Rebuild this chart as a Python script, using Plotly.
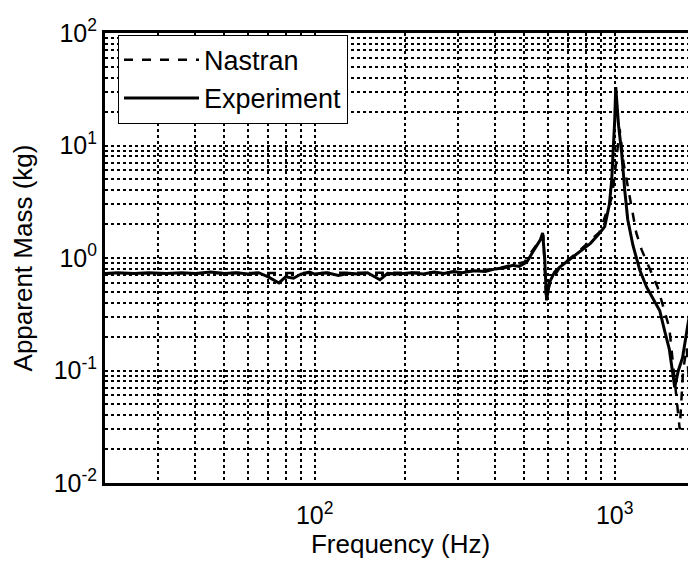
import math
import plotly.graph_objects as go

# ---- data ----
exp_freq = [20, 22, 25, 28, 32, 36, 40, 45, 50, 55, 60, 65, 70, 76, 80, 85, 90, 96, 100,
            110, 120, 130, 140, 150, 165, 175, 190, 210, 230, 250, 270, 290, 310, 340,
            370, 400, 430, 457, 480, 509, 530, 550, 565, 575, 584, 593, 605, 630, 656,
            700, 764, 830, 891, 926, 960, 977, 1000, 1008, 1030, 1055, 1080, 1105, 1150,
            1212, 1278, 1350, 1413, 1470, 1520, 1585, 1630, 1683, 1750, 1807, 1866]
exp_mass = [0.73, 0.74, 0.73, 0.74, 0.73, 0.74, 0.73, 0.75, 0.73, 0.74, 0.72, 0.74,
            0.68, 0.60, 0.68, 0.66, 0.72, 0.75, 0.72, 0.74, 0.70, 0.73, 0.72, 0.74,
            0.64, 0.73, 0.72, 0.74, 0.72, 0.75, 0.73, 0.76, 0.74, 0.77, 0.76, 0.80,
            0.82, 0.86, 0.84, 0.92, 1.10, 1.30, 1.45, 1.67, 1.00, 0.42, 0.60, 0.75,
            0.83, 0.95, 1.13, 1.35, 1.67, 1.90, 3.0, 4.9, 16.8, 33.0, 15.0, 8.6, 4.0,
            2.2, 1.3, 0.78, 0.55, 0.42, 0.34, 0.22, 0.155, 0.071, 0.10, 0.13, 0.25,
            0.42, 0.90]

nas_freq = [20, 50, 100, 200, 300, 400, 500, 560, 578, 590, 610, 660, 760, 890, 980,
            1010, 1039, 1070, 1105, 1180, 1230, 1390, 1520, 1647, 1690, 1737, 1780,
            1807, 1840, 1866]
nas_mass = [0.73, 0.73, 0.73, 0.74, 0.75, 0.80, 0.92, 1.40, 1.60, 0.45, 0.60, 0.85,
            1.15, 1.70, 3.5, 7.0, 14.0, 7.0, 4.3, 1.67, 1.18, 0.55, 0.24, 0.03, 0.10,
            0.16, 0.06, 0.03, 0.10, 0.19]

x_tickvals = [100, 1000]
x_ticktext = ["10<sup>2</sup>", "10<sup>3</sup>"]
y_tickvals = [0.01, 0.1, 1, 10, 100]
y_ticktext = ["10<sup>-2</sup>", "10<sup>-1</sup>", "10<sup>0</sup>", "10<sup>1</sup>", "10<sup>2</sup>"]

x_range = [20, 1866]
y_range = [0.01, 100]

mults = [2, 3, 4, 5, 6, 7, 8, 9]
x_minor = [m * d for d in [10, 100, 1000] for m in mults]
y_minor = [m * d for d in [0.01, 0.1, 1, 10] for m in mults]

FONT = "Liberation Sans, Arial, sans-serif"
NARROW = "Liberation Sans Narrow, Arial Narrow, Liberation Sans, sans-serif"

fig = go.Figure()
fig.add_trace(go.Scatter(x=nas_freq, y=nas_mass, mode="lines", name="Nastran",
                         line=dict(color="black", width=2.5, dash="dash")))
fig.add_trace(go.Scatter(x=exp_freq, y=exp_mass, mode="lines", name="Experiment",
                         line=dict(color="black", width=3)))

grid = dict(showgrid=True, gridcolor="black", gridwidth=2, griddash="dot")

# the page body adds an 8px offset, so the figure is 688x561
fig.update_layout(
    width=688, height=561,
    margin=dict(l=97, r=0, t=25, b=86),
    paper_bgcolor="white", plot_bgcolor="white",
    font=dict(family=FONT, size=25, color="black"),
    showlegend=True,
    legend=dict(x=0.022, y=0.996, xanchor="left", yanchor="top",
                bgcolor="white", bordercolor="black", borderwidth=1,
                font=dict(size=27), tracegroupgap=0, itemwidth=75),
    xaxis=dict(type="log", range=[math.log10(v) for v in x_range],
               tickmode="array", tickvals=x_tickvals, ticktext=x_ticktext,
               showline=True, linecolor="black", linewidth=3, mirror=True,
               ticks="", zeroline=False, automargin=False, ticklabelstandoff=8,
               title=dict(text="Frequency (Hz)", standoff=0,
                          font=dict(family=NARROW, size=26)),
               minor=dict(tickmode="array", tickvals=x_minor, ticks="", **grid),
               **grid),
    yaxis=dict(type="log", range=[math.log10(v) for v in y_range],
               tickmode="array", tickvals=y_tickvals, ticktext=y_ticktext,
               showline=True, linecolor="black", linewidth=3, mirror=False,
               ticks="", zeroline=False, automargin=False,
               title=dict(text="Apparent Mass (kg)", standoff=14,
                          font=dict(family=NARROW, size=26)),
               minor=dict(tickmode="array", tickvals=y_minor, ticks="", **grid),
               **grid),
)

fig.write_html("out.html")
